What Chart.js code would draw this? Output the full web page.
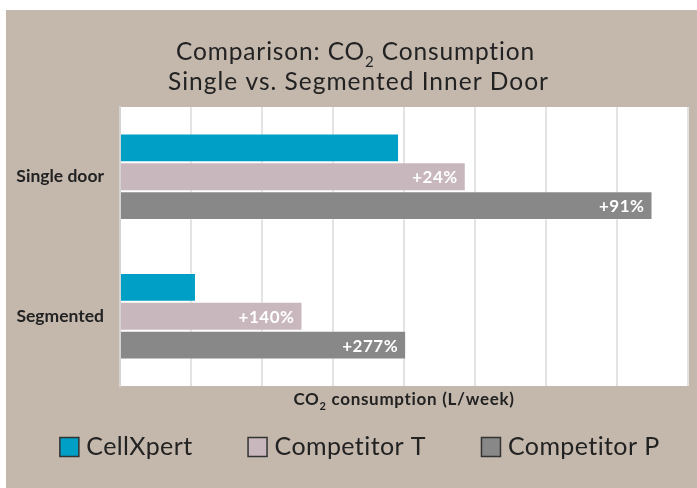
<!DOCTYPE html>
<html>
<head>
<meta charset="utf-8">
<script src="https://cdn.jsdelivr.net/npm/chart.js@4.4.1/dist/chart.umd.min.js"></script>
<style>
  html, body { margin: 0; padding: 0; background: #ffffff; }
  #wrap { width: 697px; height: 488px; }
</style>
</head>
<body>
<div id="wrap"><canvas id="myChart" width="697" height="488"></canvas></div>
<script>
const categorias = ["Single door", "Segmented"];
const cellxpert = [3.93, 1.07];
const competitorT = [4.87, 2.57];
const competitorP = [7.5, 4.03];
const etiquetasT = ["+24%", "+140%"];
const etiquetasP = ["+91%", "+277%"];
const nombres = ["CellXpert", "Competitor T", "Competitor P"];
const colores = ["#009fc6", "#c8b8bd", "#888888"];

const fondo = "#c4b8ad";
const texto = "#222222";
const fuente = "Lato, 'DejaVu Sans', sans-serif";

// texto con subindice "2" (CO2)
function textoConSub(ctx, partes, x, y, size, weight, align, espacio) {
  const fBase = weight + " " + size + "px " + fuente;
  const fSub = weight + " " + Math.round(size * 0.62) + "px " + fuente;
  ctx.letterSpacing = espacio + "px";
  let ancho = 0;
  partes.forEach((p) => {
    ctx.font = p.sub ? fSub : fBase;
    ancho += ctx.measureText(p.t).width;
  });
  let cx = align === "center" ? x - ancho / 2 : x;
  ctx.textAlign = "left";
  ctx.textBaseline = "alphabetic";
  partes.forEach((p) => {
    ctx.font = p.sub ? fSub : fBase;
    ctx.fillText(p.t, cx, p.sub ? y + size * 0.3 : y);
    cx += ctx.measureText(p.t).width;
  });
  ctx.letterSpacing = "0px";
}

const dibujosExtra = {
  id: "dibujosExtra",
  beforeDraw(chart) {
    const { ctx, chartArea } = chart;
    ctx.save();
    ctx.fillStyle = fondo;
    ctx.fillRect(6, 10, chart.width - 6, chart.height - 10);
    ctx.fillStyle = "#ffffff";
    ctx.fillRect(chartArea.left, chartArea.top, chartArea.right - chartArea.left, chartArea.bottom - chartArea.top);
    ctx.restore();
  },
  afterDatasetsDraw(chart) {
    const { ctx } = chart;
    ctx.save();
    ctx.fillStyle = "#ffffff";
    ctx.font = "bold 17px " + fuente;
    ctx.letterSpacing = "0.5px";
    ctx.textAlign = "right";
    ctx.textBaseline = "middle";
    [[1, etiquetasT], [2, etiquetasP]].forEach(([ds, etiquetas]) => {
      chart.getDatasetMeta(ds).data.forEach((bar, i) => {
        ctx.fillText(etiquetas[i], bar.x - 8, bar.y + 1);
      });
    });
    ctx.restore();
  },
  afterDraw(chart) {
    const { ctx, chartArea } = chart;
    ctx.save();
    ctx.fillStyle = texto;
    const cx = chart.width / 2;
    textoConSub(ctx, [{ t: "Comparison: CO" }, { t: "2", sub: true }, { t: " Consumption" }], cx + 7, 59.5, 24.5, "normal", "center", 0.85);
    textoConSub(ctx, [{ t: "Single vs. Segmented Inner Door" }], cx + 10, 90, 24.5, "normal", "center", 1.0);

    const ax = (chartArea.left + chartArea.right) / 2;
    textoConSub(ctx, [{ t: "CO" }, { t: "2", sub: true }, { t: " consumption (L/week)" }], ax, 405, 17, "bold", "center", 0.7);

    // leyenda
    ctx.font = "25px " + fuente;
    ctx.letterSpacing = "0.4px";
    const caja = 19;
    const hueco = 8;
    const sep = 55;
    const anchos = nombres.map((n) => caja + hueco + ctx.measureText(n).width);
    const total = anchos.reduce((a, b) => a + b, 0) + sep * (nombres.length - 1);
    let lx = 359.5 - total / 2;
    nombres.forEach((n, i) => {
      ctx.fillStyle = colores[i];
      ctx.fillRect(lx + 0.5, 437.5, caja, caja);
      ctx.strokeStyle = "#333333";
      ctx.lineWidth = 1.5;
      ctx.strokeRect(lx + 0.5, 437.5, caja, caja);
      ctx.fillStyle = texto;
      ctx.textAlign = "left";
      ctx.textBaseline = "alphabetic";
      ctx.fillText(n, lx + caja + hueco, 455);
      lx += anchos[i] + sep;
    });
    ctx.restore();
  },
};

const datasets = [cellxpert, competitorT, competitorP].map((valores, i) => ({
  label: nombres[i],
  data: valores,
  backgroundColor: colores[i],
  borderColor: "rgba(255,255,255,0.35)",
  borderWidth: 1,
  categoryPercentage: 0.62,
  barPercentage: 1.0,
}));

const miGraf = document.querySelector("#myChart");
const myChart = new Chart(miGraf, {
  type: "bar",
  data: { labels: categorias, datasets },
  options: {
    indexAxis: "y",
    responsive: false,
    animation: false,
    layout: { padding: { top: 107, right: 9, left: 0, bottom: 0 } },
    plugins: {
      legend: { display: false },
      title: { display: false },
      tooltip: { enabled: false },
    },
    scales: {
      x: {
        min: 0,
        max: 8,
        ticks: { display: false, stepSize: 1 },
        grid: { color: "#e3e3e3", lineWidth: 2, drawTicks: false },
        border: { display: false },
        afterFit(scale) { scale.height = 102; },
      },
      y: {
        grid: { display: false },
        border: { display: true, color: "#d4d4d4", width: 2 },
        ticks: {
          color: texto,
          padding: 8,
          font: { family: fuente, size: 17.5, weight: "bold" },
        },
        afterFit(scale) { scale.width = 120; },
      },
    },
  },
  plugins: [dibujosExtra],
});
</script>
</body>
</html>
